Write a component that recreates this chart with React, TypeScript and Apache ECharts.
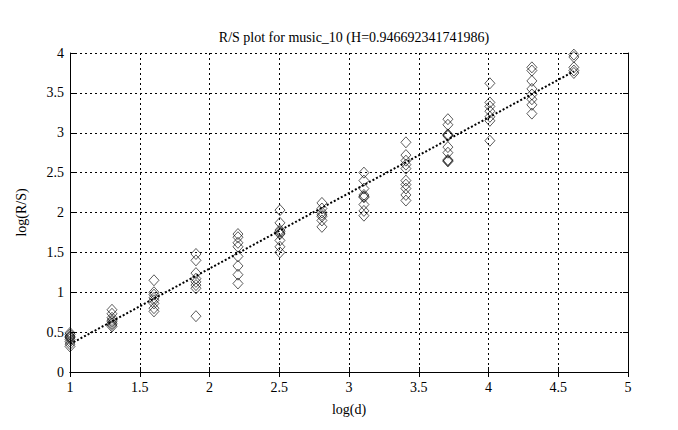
import React, { useEffect, useRef } from "react";
import * as echarts from "echarts";

const titleText = "R/S plot for music_10 (H=0.946692341741986)";
const xName = "log(d)";
const yName = "log(R/S)";

const logD = [1, 1.301, 1.602, 1.903, 2.204, 2.505, 2.806, 3.107, 3.408, 3.709, 4.01, 4.311, 4.612];

const logRS: number[][] = [
  [0.49, 0.47, 0.45, 0.44, 0.43, 0.41, 0.38, 0.35, 0.32],
  [0.78, 0.73, 0.68, 0.65, 0.63, 0.61, 0.59, 0.57],
  [1.15, 1.0, 0.97, 0.93, 0.9, 0.86, 0.8, 0.76],
  [1.48, 1.4, 1.24, 1.17, 1.13, 1.09, 1.05, 0.7],
  [1.73, 1.69, 1.62, 1.57, 1.45, 1.33, 1.22, 1.11],
  [2.03, 1.87, 1.78, 1.76, 1.74, 1.73, 1.65, 1.57, 1.5],
  [2.12, 2.05, 2.0, 1.97, 1.95, 1.9, 1.82],
  [2.5, 2.4, 2.3, 2.22, 2.2, 2.19, 2.1, 2.02, 1.96],
  [2.88, 2.72, 2.65, 2.6, 2.55, 2.4, 2.35, 2.3, 2.22, 2.15],
  [3.17, 3.1, 2.98, 2.97, 2.96, 2.82, 2.75, 2.66, 2.65, 2.64],
  [3.62, 3.38, 3.33, 3.27, 3.2, 3.15, 2.9],
  [3.82, 3.78, 3.65, 3.55, 3.48, 3.42, 3.35, 3.24],
  [3.98, 3.95, 3.82, 3.78, 3.75],
];

const fitLine: [number, number][] = [
  [1, 0.35],
  [4.612, 3.77],
];

const xTicks = [1, 1.5, 2, 2.5, 3, 3.5, 4, 4.5, 5];
const yTicks = [0, 0.5, 1, 1.5, 2, 2.5, 3, 3.5, 4];

const FONT = "Liberation Serif";

export default function App() {
  const ref = useRef<HTMLDivElement>(null);
  useEffect(() => {
    if (!ref.current) return;
    const chart = echarts.init(ref.current, undefined, { renderer: "svg" });
    const points: [number, number][] = [];
    logD.forEach((x, i) => logRS[i].forEach((y) => points.push([x, y])));

    const axisCommon = {
      type: "value" as const,
      interval: 0.5,
      axisLine: { show: true, lineStyle: { color: "#000", width: 1 } },
      axisTick: { show: true, inside: true, length: 5, lineStyle: { color: "#000" } },
      axisLabel: { color: "#000", fontFamily: FONT, fontSize: 14 },
    };

    chart.setOption({
      animation: false,
      backgroundColor: "#fff",
      title: {
        text: titleText,
        left: 349,
        textAlign: "center",
        top: 25,
        textStyle: { fontFamily: FONT, fontSize: 14, fontWeight: "normal", color: "#000" },
      },
      grid: { left: 70, right: 50, top: 53, bottom: 58 },
      xAxis: [
        {
          ...axisCommon,
          min: xTicks[0],
          max: xTicks[xTicks.length - 1],
          name: xName,
          nameLocation: "middle",
          nameGap: 30,
          nameTextStyle: { fontFamily: FONT, fontSize: 14, color: "#000" },
          axisLabel: { ...axisCommon.axisLabel, margin: 8 },
          splitLine: { show: true, lineStyle: { color: "#000", type: [2, 3], width: 1 } },
        },
        {
          ...axisCommon,
          min: xTicks[0],
          max: xTicks[xTicks.length - 1],
          position: "top",
          axisLabel: { show: false },
          splitLine: { show: false },
        },
      ],
      yAxis: [
        {
          ...axisCommon,
          min: yTicks[0],
          max: yTicks[yTicks.length - 1],
          name: yName,
          nameLocation: "middle",
          nameGap: 42,
          nameTextStyle: { fontFamily: FONT, fontSize: 14, color: "#000" },
          axisLabel: { ...axisCommon.axisLabel, margin: 6 },
          splitLine: { show: true, lineStyle: { color: "#000", type: [2, 3], width: 1 } },
        },
        {
          ...axisCommon,
          min: yTicks[0],
          max: yTicks[yTicks.length - 1],
          position: "right",
          axisLabel: { show: false },
          splitLine: { show: false },
        },
      ],
      series: [
        {
          type: "scatter",
          data: points,
          symbol: "diamond",
          symbolSize: [10, 11],
          itemStyle: { color: "rgba(255,255,255,0)", borderColor: "#000", borderWidth: 0.8 },
          z: 3,
        },
        {
          type: "line",
          data: fitLine,
          symbol: "none",
          lineStyle: { color: "#000", width: 2, type: [2, 2] },
          z: 4,
        },
      ],
    });
    return () => chart.dispose();
  }, []);
  return <div ref={ref} style={{ width: 678, height: 430, margin: -8 }} />;
}
